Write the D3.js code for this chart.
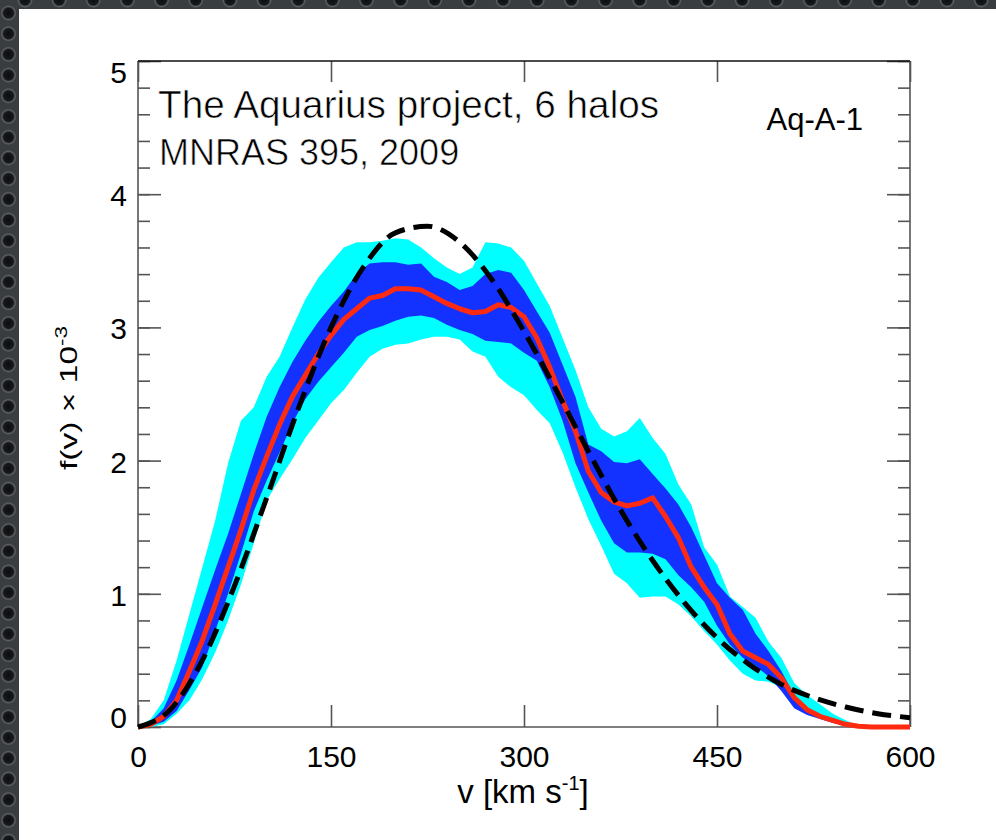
<!DOCTYPE html>
<html><head><meta charset="utf-8">
<script src="https://cdn.jsdelivr.net/npm/d3@7"></script>
<style>html,body{margin:0;padding:0;background:#fff;overflow:hidden} svg{display:block}</style>
</head><body>
<svg id="c" width="996" height="840"></svg>
<script>
// ---------- data ----------
const velocity = [0,10,20,30,40,50,60,70,80,90,100,110,120,130,140,150,160,170,180,190,200,210,220,230,240,250,260,270,280,290,300,310,320,330,340,350,360,370,380,390,400,410,420,430,440,450,460,470,480,490,500,510,520,530,540,550,560,570,580,590,600];
const median = [0,0.02,0.08,0.20,0.42,0.65,0.92,1.20,1.48,1.78, 2.03,2.27,2.48,2.64,2.80,2.94,3.06,3.14,3.22,3.24, 3.29,3.29,3.28,3.23,3.18,3.14,3.11,3.12,3.17,3.15, 3.08,2.92,2.70,2.45,2.22,1.92,1.76,1.69,1.66,1.68, 1.72,1.58,1.42,1.20,1.05,0.92,0.70,0.57,0.52,0.47, 0.37,0.22,0.13,0.08,0.05,0.02,0.005,0,0,0, 0];
const outerHigh = [0,0.06,0.20,0.50,0.85,1.20,1.55,1.98,2.30,2.40, 2.63,2.78,3.00,3.21,3.37,3.49,3.60,3.64,3.64,3.65, 3.67,3.66,3.60,3.52,3.45,3.40,3.45,3.64,3.63,3.60, 3.50,3.33,3.16,2.92,2.68,2.40,2.24,2.18,2.22,2.32, 2.17,2.05,1.82,1.67,1.35,1.22,0.98,0.90,0.82,0.64, 0.52,0.33,0.24,0.17,0.10,0.05,0.01,0,0,0, 0];
const outerLow = [0,0,0.02,0.10,0.20,0.36,0.56,0.80,1.07,1.38, 1.70,1.86,2.01,2.17,2.30,2.43,2.53,2.66,2.78,2.84, 2.87,2.88,2.91,2.93,2.93,2.91,2.82,2.78,2.63,2.55, 2.49,2.38,2.28,2.06,1.80,1.56,1.36,1.15,1.08,0.97, 0.98,0.98,0.92,0.83,0.72,0.62,0.50,0.40,0.35,0.34, 0.30,0.19,0.13,0.08,0.05,0.02,0,0,0,0, 0];
const innerHigh = [0,0.04,0.14,0.35,0.62,0.90,1.18,1.45,1.75,2.05, 2.33,2.55,2.74,2.90,3.04,3.16,3.27,3.40,3.48,3.49, 3.49,3.47,3.48,3.38,3.34,3.28,3.31,3.40,3.43,3.41, 3.28,3.12,2.96,2.72,2.48,2.12,2.07,1.99,1.98,2.01, 1.90,1.79,1.67,1.50,1.29,1.08,0.97,0.88,0.70,0.57, 0.42,0.24,0.13,0.08,0.05,0.02,0,0,0,0, 0];
const innerLow = [0,0.01,0.04,0.12,0.28,0.45,0.72,1.00,1.30,1.62, 1.85,2.06,2.28,2.46,2.59,2.70,2.81,2.93,2.98,3.01, 3.05,3.08,3.09,3.07,3.02,2.98,2.95,2.90,2.89,2.88, 2.81,2.75,2.55,2.30,1.98,1.76,1.55,1.38,1.31,1.31, 1.30,1.26,1.14,1.05,0.94,0.76,0.62,0.52,0.46,0.38, 0.27,0.14,0.09,0.06,0.03,0.01,0,0,0,0, 0];
const maxwellV = [0,25,50,75,100,125,150,175,200,225,250,275,300,325,350,375,400,425,450,475,500,525,550,575,600];
const maxwellF = [0,0.13,0.50,1.06,1.72,2.40,3.00,3.45,3.71,3.76,3.64,3.36,2.97,2.53,2.07,1.63,1.25,0.93,0.67,0.47,0.32,0.22,0.15,0.10,0.07];
const xTicks = [0,150,300,450,600];
const yTicks = [0,1,2,3,4,5];
const titleLines = ["The Aquarius project, 6 halos", "MNRAS 395, 2009"];
const haloLabel = "Aq-A-1";

// ---------- layout ----------
const W = 996, H = 840;
const L = 138, R = 910, T = 61, B = 727;
const FONT = "'Liberation Sans', Arial, Helvetica, sans-serif";
const svg = d3.select("#c");

// decorative perforated background
const defs = svg.append("defs");
const rg = defs.append("radialGradient").attr("id","hole");
rg.append("stop").attr("offset","0%").attr("stop-color","#0c0d0e");
rg.append("stop").attr("offset","62%").attr("stop-color","#18191b");
rg.append("stop").attr("offset","82%").attr("stop-color","#5d6064");
rg.append("stop").attr("offset","100%").attr("stop-color","#3a3d40");
svg.append("rect").attr("width",W).attr("height",H).attr("fill","#3a3d40");
const holes = svg.append("g");
for (let cy = 13; cy < H + 10; cy += 20.7) holes.append("circle").attr("cx",8.5).attr("cy",cy).attr("r",8).attr("fill","url(#hole)");
for (let cx = 25; cx < W + 20; cx += 34.15) holes.append("circle").attr("cx",cx).attr("cy",0).attr("r",8).attr("fill","url(#hole)");
svg.append("rect").attr("x",19).attr("y",9).attr("width",W-19).attr("height",H-9).attr("fill","#fff");

const x = d3.scaleLinear().domain([0,600]).range([L,R]);
const y = d3.scaleLinear().domain([0,5]).range([B,T]);
const yMinor = y.ticks(25);

// ---------- axes ----------
const axisColor = "#555";
function styleAxis(g){
  g.select(".domain").remove();
  g.selectAll(".tick line").attr("stroke",axisColor).attr("stroke-width",1.6);
  g.selectAll("text").attr("font-family",FONT).attr("font-size",30).attr("fill","#000");
}
const gL = svg.append("g").attr("transform",`translate(${L},0)`)
  .call(d3.axisLeft(y).tickValues(yTicks).tickFormat(d3.format("d")).tickSizeInner(-23).tickSizeOuter(0).tickPadding(11));
styleAxis(gL);
gL.selectAll(".tick text").attr("dy", d => d === 0 ? "0em" : (d === 5 ? "0.72em" : "0.38em"));
const gLm = svg.append("g").attr("transform",`translate(${L},0)`)
  .call(d3.axisLeft(y).tickValues(yMinor).tickFormat("").tickSizeInner(-12).tickSizeOuter(0));
styleAxis(gLm);
const gR = svg.append("g").attr("transform",`translate(${R},0)`)
  .call(d3.axisRight(y).tickValues(yTicks).tickFormat("").tickSizeInner(-23).tickSizeOuter(0));
styleAxis(gR);
const gRm = svg.append("g").attr("transform",`translate(${R},0)`)
  .call(d3.axisRight(y).tickValues(yMinor).tickFormat("").tickSizeInner(-12).tickSizeOuter(0));
styleAxis(gRm);
const gB = svg.append("g").attr("transform",`translate(0,${B})`)
  .call(d3.axisBottom(x).tickValues(xTicks).tickFormat(d3.format("d")).tickSizeInner(-22).tickSizeOuter(0).tickPadding(19));
styleAxis(gB);
const gT = svg.append("g").attr("transform",`translate(0,${T})`)
  .call(d3.axisTop(x).tickValues(xTicks).tickFormat("").tickSizeInner(-21).tickSizeOuter(0));
styleAxis(gT);

// frame
svg.append("line").attr("x1",L).attr("x2",L).attr("y1",T).attr("y2",B).attr("stroke",axisColor).attr("stroke-width",1.6);
svg.append("line").attr("x1",R).attr("x2",R).attr("y1",T).attr("y2",B).attr("stroke",axisColor).attr("stroke-width",1.6);
svg.append("line").attr("x1",L).attr("x2",R).attr("y1",B).attr("y2",B).attr("stroke",axisColor).attr("stroke-width",1.6);
svg.append("line").attr("x1",L).attr("x2",R).attr("y1",T).attr("y2",T).attr("stroke","#111").attr("stroke-width",1.6);

// ---------- data marks ----------
const rows = velocity.map((v,i) => ({v, m: median[i], oL: outerLow[i], oH: outerHigh[i], iL: innerLow[i], iH: innerHigh[i]}));
svg.append("path").datum(rows)
  .attr("d", d3.area().x(d => x(d.v)).y0(d => y(d.oL)).y1(d => y(d.oH)).curve(d3.curveLinear))
  .attr("fill","#00ffff");
svg.append("path").datum(rows)
  .attr("d", d3.area().x(d => x(d.v)).y0(d => y(d.iL)).y1(d => y(d.iH)).curve(d3.curveLinear))
  .attr("fill","#1432ff");
svg.append("path").datum(rows)
  .attr("d", d3.line().x(d => x(d.v)).y(d => y(d.m)).curve(d3.curveLinear))
  .attr("fill","none").attr("stroke","#ff2a10").attr("stroke-width",5).attr("stroke-linejoin","round");
const mw = maxwellV.map((v,i) => ({v, f: maxwellF[i]}));
svg.append("path").datum(mw)
  .attr("d", d3.line().x(d => x(d.v)).y(d => y(d.f)).curve(d3.curveMonotoneX))
  .attr("fill","none").attr("stroke","#000").attr("stroke-width",5).attr("stroke-dasharray","19,9");

// ---------- texts ----------
function lightText(t){ return t.attr("stroke","#fff").attr("stroke-width",0.6).attr("paint-order","normal"); }
lightText(svg.append("text").attr("x",158).attr("y",118).attr("font-family",FONT).attr("font-size",38.7).attr("fill","#000").text(titleLines[0]));
lightText(svg.append("text").attr("x",159).attr("y",165).attr("font-family",FONT).attr("font-size",36).attr("fill","#000").text(titleLines[1]));
svg.append("text").attr("x",863).attr("y",130).attr("text-anchor","end").attr("font-family",FONT).attr("font-size",31).attr("fill","#000").text(haloLabel);

// x title
const xt = svg.append("text").attr("x",523).attr("y",803).attr("text-anchor","middle").attr("font-family",FONT).attr("font-size",33).attr("fill","#000");
xt.append("tspan").text("v [km s");
xt.append("tspan").attr("font-size",20).attr("dy",-13).text("-1");
xt.append("tspan").attr("dy",13).text("]");

// y title (stretched along its length as in the reference)
const yt = svg.append("text").attr("transform","translate(77,398) rotate(-90) scale(1.4,1)")
  .attr("text-anchor","middle").attr("font-family",FONT).attr("font-size",24).attr("fill","#000");
yt.append("tspan").text("f(v) \u00d7 10");
yt.append("tspan").attr("font-size",16).attr("dy",-10).text("-3");
</script>
</body></html>
